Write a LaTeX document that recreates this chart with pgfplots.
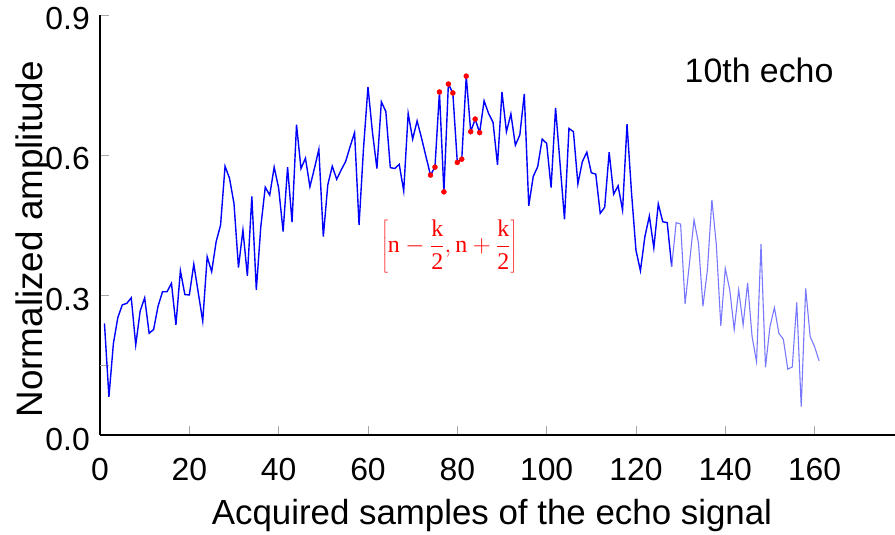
\documentclass[border=0pt]{standalone}
\usepackage{pgfplots}
\pgfplotsset{compat=1.18}
\usepackage{fontspec}
\setmainfont{Liberation Sans}
\newfontfamily\serif{Liberation Serif}
\newcommand\sn[1]{\mbox{\serif #1}}
\begin{document}
\begin{tikzpicture}
\begin{axis}[
  scale only axis, width=795bp, height=420bp,
  xmin=0, xmax=178, ymin=0, ymax=0.9,
  axis x line=bottom, axis y line=left,
  axis line style={-, line width=1.8bp, black},
  xtick={0,20,...,160}, ytick={0,0.3,0.6,0.9},
  yticklabels={0.0,0.3,0.6,0.9},
  extra y ticks={0.15}, extra y tick labels={},
  tick style={gray!70, line width=0.8bp},
  tick align=inside, major tick length=9bp,
  /pgf/number format/assume math mode=true,
  ticklabel style={font=\fontsize{32}{36}\selectfont, inner sep=0pt},
  xticklabel style={anchor=base, yshift=-45bp},
  yticklabel style={anchor=base east, xshift=-10bp, yshift=-15bp},
  xlabel={Acquired samples of the echo signal},
  ylabel={Normalized amplitude},
  label style={inner sep=0pt},
  xlabel style={font=\fontsize{35}{40}\selectfont, at={(axis description cs:0.493,-0.212)}, anchor=base},
  ylabel style={font=\fontsize{37}{42}\selectfont, at={(axis description cs:-0.0717,0.466)}, anchor=base},
  clip=false,
]
\addplot[blue, line width=1.4bp] coordinates {
(1,0.239) (2,0.082) (3,0.196) (4,0.252) (5,0.279) (6,0.282) (7,0.294) (8,0.193) (9,0.266) (10,0.294)
(11,0.218) (12,0.226) (13,0.276) (14,0.307) (15,0.307) (16,0.325) (17,0.236) (18,0.352) (19,0.301) (20,0.300)
(21,0.366) (22,0.305) (23,0.244) (24,0.382) (25,0.350) (26,0.414) (27,0.450) (28,0.576) (29,0.550) (30,0.496)
(31,0.359) (32,0.439) (33,0.341) (34,0.511) (35,0.311) (36,0.446) (37,0.531) (38,0.514) (39,0.574) (40,0.529)
(41,0.436) (42,0.574) (43,0.456) (44,0.665) (45,0.571) (46,0.593) (47,0.532) (48,0.571) (49,0.612) (50,0.425)
(51,0.536) (52,0.576) (53,0.548) (54,0.568) (55,0.586) (56,0.618) (57,0.648) (58,0.450) (59,0.614) (60,0.746)
(61,0.649) (62,0.571) (63,0.714) (64,0.693) (65,0.573) (66,0.571) (67,0.580) (68,0.523) (69,0.689) (70,0.634)
(71,0.673) (72,0.636) (73,0.596) (74,0.557) (75,0.574) (76,0.735) (77,0.521) (78,0.752) (79,0.733) (80,0.584)
(81,0.591) (82,0.769) (83,0.650) (84,0.677) (85,0.648) (86,0.716) (87,0.689) (88,0.670) (89,0.579) (90,0.735)
(91,0.650) (92,0.688) (93,0.621) (94,0.643) (95,0.731) (96,0.491) (97,0.554) (98,0.575) (99,0.634) (100,0.625)
(101,0.530) (102,0.701) (103,0.582) (104,0.462) (105,0.657) (106,0.650) (107,0.538) (108,0.586) (109,0.606) (110,0.562)
(111,0.559) (112,0.475) (113,0.488) (114,0.606) (115,0.516) (116,0.534) (117,0.482) (118,0.666) (119,0.520) (120,0.396)
(121,0.352) (122,0.425) (123,0.469) (124,0.401) (125,0.495) (126,0.457) (127,0.455) (128,0.361)
};
\addplot[color={rgb,255:red,120;green,120;blue,255}, line width=1.1bp] coordinates {
(128,0.361) (129,0.455) (130,0.452)
(131,0.281) (132,0.370) (133,0.461) (134,0.411) (135,0.276) (136,0.354) (137,0.504) (138,0.407) (139,0.234) (140,0.357)
(141,0.311) (142,0.226) (143,0.311) (144,0.236) (145,0.326) (146,0.211) (147,0.157) (148,0.409) (149,0.145) (150,0.232)
(151,0.273) (152,0.218) (153,0.205) (154,0.141) (155,0.146) (156,0.284) (157,0.061) (158,0.314) (159,0.211) (160,0.189)
(161,0.159)
};
\addplot[only marks, mark=*, red, mark size=2.5bp] coordinates {
(74,0.557) (75,0.574) (76,0.735) (77,0.521) (78,0.752) (79,0.733) (80,0.584)
(81,0.591) (82,0.769) (83,0.650) (84,0.677) (85,0.648)
};
\node[anchor=base west, font=\fontsize{34}{40}\selectfont] at (rel axis cs:0.731,0.84) {10th echo};
\node[red, font=\fontsize{24}{28}\selectfont, inner sep=0pt] at (axis cs:78.2,0.404)
  {$\displaystyle\left[\sn{n}-\frac{\sn{k}}{\sn{2}},\sn{n}+\frac{\sn{k}}{\sn{2}}\right]$};
\end{axis}
\pgfresetboundingbox
\path[use as bounding box] (-100bp,-100bp) rectangle (795bp,435bp);
\end{tikzpicture}
\end{document}
